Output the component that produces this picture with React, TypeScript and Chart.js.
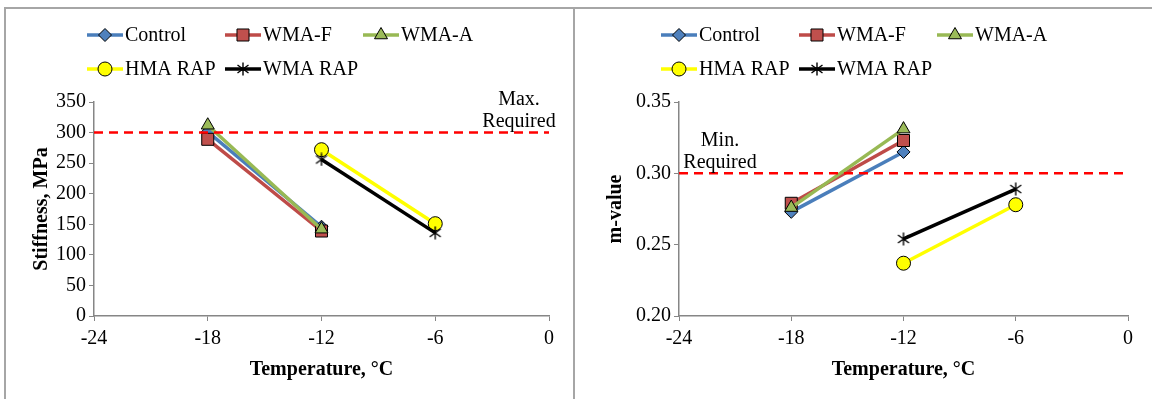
import React, { useEffect, useRef } from 'react';
import { Chart, registerables } from 'chart.js';
import * as helpers from 'chart.js/helpers';

Chart.register(...registerables);

// ---------------- data ----------------
const SERIES_NAMES = ['Control', 'WMA-F', 'WMA-A', 'HMA RAP', 'WMA RAP'];
const TEMPS_VIRGIN = [-18, -12];
const TEMPS_RAP = [-12, -6];
const THRESHOLD_TEMPS = [-24, 0];
const X_TICKS = [-24, -18, -12, -6, 0];

const STIFF_CONTROL = [301, 146];
const STIFF_WMA_F = [289, 139];
const STIFF_WMA_A = [312, 142];
const STIFF_HMA_RAP = [272, 151];
const STIFF_WMA_RAP = [256, 136];
const STIFF_MAX_REQUIRED = [300, 300];
const STIFF_TICKS = [0, 50, 100, 150, 200, 250, 300, 350];

const M_CONTROL = [0.273, 0.315];
const M_WMA_F = [0.279, 0.323];
const M_WMA_A = [0.276, 0.331];
const M_HMA_RAP = [0.237, 0.278];
const M_WMA_RAP = [0.254, 0.289];
const M_MIN_REQUIRED = [0.3, 0.3];
const M_TICKS = [0.2, 0.25, 0.3, 0.35];

// ---------------- styles ----------------
const FONT = '"Liberation Serif", "Times New Roman", serif';
Chart.defaults.font.family = FONT;
Chart.defaults.color = '#000';

function makeStar(): HTMLCanvasElement {
  const c = document.createElement('canvas');
  c.width = 14;
  c.height = 14;
  const g = c.getContext('2d')!;
  g.strokeStyle = '#000';
  g.lineWidth = 1.4;
  g.beginPath();
  g.moveTo(1.5, 3); g.lineTo(12.5, 11);
  g.moveTo(12.5, 3); g.lineTo(1.5, 11);
  g.moveTo(7, 0.5); g.lineTo(7, 13.5);
  g.stroke();
  return c;
}

const zip = (xs: number[], ys: number[]) => xs.map((x, i) => ({ x, y: ys[i] }));

function seriesDatasets(values: number[][], star: HTMLCanvasElement) {
  const styles = [
    { line: '#4a7ebb', fill: '#4f81bd', pointStyle: 'rectRot', r: 6.5 },
    { line: '#be4b48', fill: '#c0504d', pointStyle: 'rect', r: 8.5 },
    { line: '#98b954', fill: '#9bbb59', pointStyle: 'triangle', r: 7.5 },
    { line: '#ffff00', fill: '#ffff00', pointStyle: 'circle', r: 7 },
    { line: '#000000', fill: '#000000', pointStyle: star as any, r: 6 },
  ];
  return values.map((v, i) => {
    const s = styles[i];
    return {
      label: SERIES_NAMES[i],
      data: zip(i < 3 ? TEMPS_VIRGIN : TEMPS_RAP, v),
      borderColor: s.line,
      backgroundColor: s.fill,
      borderWidth: 3.5,
      pointStyle: s.pointStyle,
      pointRadius: s.r,
      pointHoverRadius: s.r,
      pointBackgroundColor: s.fill,
      pointBorderColor: '#000',
      pointBorderWidth: 1,
      order: 5 - i,
      legendIndex: i,
    } as any;
  });
}

const panelPlugin = {
  id: 'panelText',
  afterDraw(chart: any, _args: any, opts: any) {
    const ctx: CanvasRenderingContext2D = chart.ctx;
    ctx.save();
    // legend in a grid
    ctx.font = `20px ${FONT}`;
    ctx.textBaseline = 'middle';
    ctx.textAlign = 'left';
    chart.data.datasets.forEach((ds: any) => {
      if (ds.legendIndex == null) return;
      const col = ds.legendIndex % 3;
      const row = Math.floor(ds.legendIndex / 3);
      const x = opts.legendX + col * 138;
      const y = opts.legendY + row * 34;
      ctx.strokeStyle = ds.borderColor;
      ctx.lineWidth = 3.5;
      ctx.beginPath();
      ctx.moveTo(x, y);
      ctx.lineTo(x + 36, y);
      ctx.stroke();
      ctx.fillStyle = ds.pointBackgroundColor;
      ctx.strokeStyle = '#000';
      ctx.lineWidth = 1;
      helpers.drawPoint(ctx, { pointStyle: ds.pointStyle, radius: ds.pointRadius, rotation: 0, borderWidth: 1 } as any, x + 18, y);
      ctx.fillStyle = '#000';
      ctx.fillText(ds.label, x + 38, y + 1);
    });
    // threshold annotation
    const yScale = chart.scales.y;
    const area = chart.chartArea;
    const ty = yScale.getPixelForValue(opts.thresholdValue);
    const cx = opts.annotAnchor === 'right' ? area.right - 30 : area.left + 41;
    ctx.textAlign = 'center';
    ctx.fillText(opts.annotLines[0], cx, ty - 33);
    ctx.fillText(opts.annotLines[1], cx, ty - 11);
    ctx.restore();
  },
};

function makeConfig(kind: 'stiff' | 'm', star: HTMLCanvasElement): any {
  const isStiff = kind === 'stiff';
  const values = isStiff
    ? [STIFF_CONTROL, STIFF_WMA_F, STIFF_WMA_A, STIFF_HMA_RAP, STIFF_WMA_RAP]
    : [M_CONTROL, M_WMA_F, M_WMA_A, M_HMA_RAP, M_WMA_RAP];
  const threshold = isStiff ? STIFF_MAX_REQUIRED : M_MIN_REQUIRED;
  const yTicks = isStiff ? STIFF_TICKS : M_TICKS;
  const axisColor = '#868686';
  return {
    type: 'line',
    data: {
      datasets: [
        {
          label: isStiff ? 'Max. Required' : 'Min. Required',
          data: zip(THRESHOLD_TEMPS, threshold),
          borderColor: '#ff0000',
          borderWidth: 2.5,
          borderDash: [9, 6],
          pointRadius: 0,
          order: 0,
        },
        ...seriesDatasets(values, star),
      ],
    },
    options: {
      responsive: false,
      animation: false,
      events: [],
      layout: { padding: { top: 93, right: 24, left: 0, bottom: 0 } },
      plugins: {
        legend: { display: false },
        tooltip: { enabled: false },
        panelText: {
          legendX: isStiff ? 81 : 86,
          legendY: 26,
          thresholdValue: threshold[0],
          annotLines: isStiff ? ['Max.', 'Required'] : ['Min.', 'Required'],
          annotAnchor: isStiff ? 'right' : 'left',
        },
      },
      scales: {
        x: {
          type: 'linear',
          min: -24,
          max: 0,
          afterBuildTicks: (s: any) => { s.ticks = X_TICKS.map((v) => ({ value: v })); },
          afterFit: (s: any) => { s.height = 83; },
          grid: { display: true, drawOnChartArea: false, drawTicks: true, tickLength: 5, color: axisColor },
          border: { display: true, color: axisColor, width: 1.5 },
          ticks: { font: { size: 20 }, padding: 6, color: '#000', maxRotation: 0 },
          title: { display: true, text: 'Temperature, °C', font: { size: 20, weight: 'bold' }, padding: { top: 0, bottom: 17 }, color: '#000' },
        },
        y: {
          type: 'linear',
          min: yTicks[0],
          max: yTicks[yTicks.length - 1],
          afterBuildTicks: (s: any) => { s.ticks = yTicks.map((v) => ({ value: v })); },
          afterFit: (s: any) => { s.width = isStiff ? 88 : 104; },
          grid: { display: true, drawOnChartArea: false, drawTicks: true, tickLength: 5, color: axisColor },
          border: { display: true, color: axisColor, width: 1.5 },
          ticks: {
            font: { size: 20 },
            padding: 3,
            color: '#000',
            callback: (v: number) => (isStiff ? String(v) : v.toFixed(2)),
          },
          title: { display: true, text: isStiff ? 'Stiffness, MPa' : 'm-value', font: { size: 20, weight: 'bold' }, padding: { top: isStiff ? 24 : 29, bottom: 0 }, color: '#000' },
        },
      },
    },
    plugins: [panelPlugin],
  };
}

function ChartPanel({ kind, width, height }: { kind: 'stiff' | 'm'; width: number; height: number }) {
  const ref = useRef<HTMLCanvasElement>(null);
  useEffect(() => {
    const chart = new Chart(ref.current!, makeConfig(kind, makeStar()));
    return () => chart.destroy();
  }, [kind]);
  return <canvas ref={ref} width={width} height={height} style={{ display: 'block', width, height }} />;
}

export default function App() {
  useEffect(() => {
    document.body.style.margin = '0';
  }, []);
  const border = '#a6a6a6';
  return (
    <div style={{ position: 'relative', width: 1152, height: 399, overflow: 'hidden', background: '#fff' }}>
      <div style={{ position: 'absolute', left: 4, top: 7, width: 1148, height: 2, background: border }} />
      <div style={{ position: 'absolute', left: 4, top: 7, width: 2, height: 392, background: border }} />
      <div style={{ position: 'absolute', left: 573, top: 7, width: 2, height: 392, background: border }} />
      <div style={{ position: 'absolute', left: 6, top: 9 }}>
        <ChartPanel kind="stiff" width={567} height={390} />
      </div>
      <div style={{ position: 'absolute', left: 575, top: 9 }}>
        <ChartPanel kind="m" width={577} height={390} />
      </div>
    </div>
  );
}
